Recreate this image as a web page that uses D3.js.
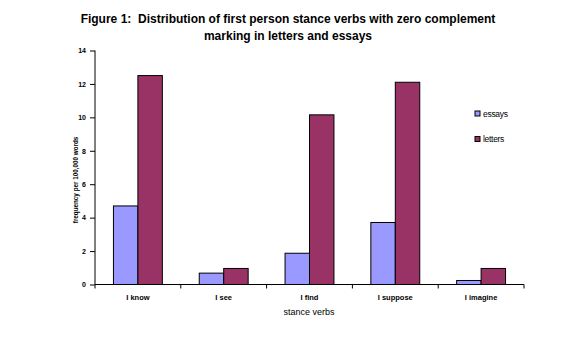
<!DOCTYPE html>
<html><head><meta charset="utf-8">
<script src="https://cdn.jsdelivr.net/npm/d3@7"></script>
<style>body{margin:0;background:#fff;} svg{display:block;font-family:Arial,"Liberation Sans",sans-serif;} text{white-space:pre;}</style>
</head><body>
<svg id="chart" width="577" height="352"></svg>
<script>
const categories = ["I know", "I see", "I find", "I suppose", "I imagine"];
const seriesNames = ["essays", "letters"];
const essays = [4.7, 0.68, 1.87, 3.71, 0.24];
const letters = [12.5, 0.96, 10.15, 12.1, 0.96];
const yTicks = [0, 2, 4, 6, 8, 10, 12, 14];
const colors = ["#9999FF", "#993366"];
const titleLines = ["Figure 1:  Distribution of first person stance verbs with zero complement", "marking in letters and essays"];

const svg = d3.select("#chart");
const pLeft = 95, pRight = 524, pTop = 50.5, pBottom = 284.5;

const x = d3.scaleBand().domain(categories).range([pLeft, pRight]).paddingInner(0.43).paddingOuter(0.215);
const xOuter = d3.scaleBand().domain(categories).range([pLeft, pRight]);
const x1 = d3.scaleBand().domain(seriesNames).range([0, x.bandwidth()]);
const y = d3.scaleLinear().domain([0, 14]).range([pBottom, pTop]);

// title
svg.append("g").selectAll("text").data(titleLines).join("text")
  .attr("x", 288).attr("y", (d, i) => 23 + i * 16.5)
  .attr("text-anchor", "middle").attr("font-weight", "bold").attr("font-size", 12)
  .attr("xml:space", "preserve")
  .text(d => d);

// bars
const data = categories.map((c, i) => ({cat: c, vals: [essays[i], letters[i]]}));
const g = svg.append("g");
g.selectAll("g.grp").data(data).join("g").attr("class", "grp")
  .attr("transform", d => `translate(${x(d.cat)},0)`)
  .selectAll("rect").data(d => d.vals.map((v, j) => ({name: seriesNames[j], v, j}))).join("rect")
  .attr("x", d => x1(d.name)).attr("width", x1.bandwidth())
  .attr("y", d => y(d.v)).attr("height", d => y(0) - y(d.v))
  .attr("fill", d => colors[d.j]).attr("stroke", "#000").attr("stroke-width", 1);

// y axis
const yAxis = d3.axisLeft(y).tickValues(yTicks).tickSize(5).tickPadding(4).tickSizeOuter(0);
const ya = svg.append("g").attr("transform", `translate(${pLeft},0)`).call(yAxis);
ya.selectAll("text").attr("font-size", 7).attr("font-weight", "bold").attr("font-family", "Arial, Liberation Sans, sans-serif");

// x axis
const xa = svg.append("g").attr("transform", `translate(0,${pBottom})`);
xa.append("line").attr("x1", pLeft).attr("x2", pRight).attr("stroke", "#000");
const tickPos = [pLeft].concat(categories.map(c => xOuter(c) + xOuter.bandwidth()));
xa.selectAll("line.t").data(tickPos).join("line").attr("class", "t")
  .attr("x1", d => d).attr("x2", d => d).attr("y1", 0).attr("y2", 4).attr("stroke", "#000");
xa.selectAll("text").data(categories).join("text")
  .attr("x", d => x(d) + x.bandwidth() / 2).attr("y", 15)
  .attr("text-anchor", "middle").attr("font-size", 7.5).attr("font-weight", "bold")
  .text(d => d);
ya.select(".domain").attr("d", `M0,${pTop}V${pBottom}`);

// axis titles
svg.append("text").attr("x", 309).attr("y", 315).attr("text-anchor", "middle").attr("font-size", 9).text("stance verbs");
svg.append("text").attr("transform", "translate(77.5,180) rotate(-90)").attr("text-anchor", "middle")
  .attr("font-size", 6.3).attr("font-weight", "bold").text("frequency per 100,000 words");

// legend
const leg = svg.append("g").selectAll("g").data(seriesNames).join("g")
  .attr("transform", (d, i) => `translate(475,${111 + i * 25.5})`);
leg.append("rect").attr("width", 5).attr("height", 5).attr("fill", (d, i) => colors[i]).attr("stroke", "#000");
leg.append("text").attr("x", 8).attr("y", 5.5).attr("font-size", 8.5).attr("letter-spacing", -0.3).text(d => d);
</script>
</body></html>
